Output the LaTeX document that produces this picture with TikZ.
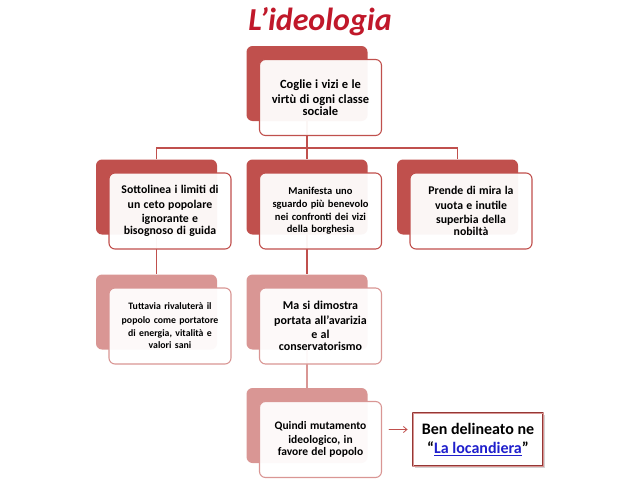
\documentclass[tikz,border=0pt]{standalone}
\usepackage{fontspec}
\setmainfont{Carlito}
\usepackage{tikz}
\usetikzlibrary{arrows.meta,backgrounds,shadows}
\definecolor{CardRed}{HTML}{C0504D}
\definecolor{CardPink}{HTML}{D99694}
\definecolor{TitleRed}{HTML}{C0182A}
\definecolor{BoxRed}{HTML}{953735}
\definecolor{LinkBlue}{HTML}{1F1FCC}
\tikzset{
  cardback/.style={rectangle,rounded corners=6pt,minimum width=121pt,
    minimum height=75pt,inner sep=0pt,draw=none},
  cardfront/.style={rectangle,rounded corners=6pt,minimum width=122pt,
    minimum height=76pt,inner sep=2pt,fill=white,fill opacity=0.95,
    text opacity=1,line width=1.1pt,align=center,font=\bfseries},
  linkdark/.style={draw=CardRed,line width=1.3pt},
  linklight/.style={draw=CardPink,line width=1.3pt},
}
\newcommand{\drawcard}[6]{%
  \node[cardback,fill=#4] (#1-back) at (#2,#3) {};
  \node[cardfront,draw=#4,text width=#5]
    (#1) at ([xshift=13.5pt,yshift=-14pt]#1-back.center) {#6};%
}

\begin{document}
\begin{tikzpicture}[x=1pt,y=-1pt,line cap=round,line join=round]
  \useasboundingbox (0,0) rectangle (638,479);
  \node[text=TitleRed,font=\fontsize{32}{36}\selectfont\bfseries\itshape]
    (title) at (320,22) {L’ideologia};
  \drawcard{vizi}{307}{83.5}{CardRed}{112pt}{\fontsize{12.5}{15}\selectfont
    Coglie i vizi e le\\ virtù di ogni classe\\ sociale}
  \drawcard{ceto}{156.5}{197}{CardRed}{114pt}{\fontsize{11.8}{14.4}\selectfont
    Sottolinea i limiti di\\ un ceto popolare\\ ignorante e\\ bisognoso di guida}
  \drawcard{borg}{307}{197}{CardRed}{114pt}{\fontsize{10.5}{13.2}\selectfont
    Manifesta uno\\ sguardo più benevolo\\ nei confronti dei vizi\\ della borghesia}
  \drawcard{nobi}{457.5}{197}{CardRed}{114pt}{\fontsize{11.8}{14.6}\selectfont
    Prende di mira la\\ vuota e inutile\\ superbia della\\ nobiltà}
  \drawcard{popolo}{156.5}{312}{CardPink}{114pt}{\fontsize{9.8}{13.5}\selectfont
    Tuttavia rivaluterà il\\ popolo come portatore\\ di energia, vitalità e\\ valori sani}
  \drawcard{avar}{307}{312}{CardPink}{114pt}{\fontsize{12}{14.5}\selectfont
    Ma si dimostra\\ portata all’avarizia\\ e al\\ conservatorismo}
  \drawcard{muta}{307}{425.5}{CardPink}{114pt}{\fontsize{11.5}{13.8}\selectfont
    Quindi mutamento\\ ideologico, in\\ favore del popolo}
  \node[draw=BoxRed,line width=0.9pt,double=CardPink,double distance=1pt,
        fill=white,minimum width=130pt,minimum height=53pt,inner sep=2pt,
        align=center,font=\fontsize{16}{19.5}\selectfont\bfseries,
        drop shadow={opacity=0.35,shadow xshift=1.5pt,shadow yshift=-1.5pt}]
    (ben) at (478,439.5)
    {Ben delineato ne\\ “\textcolor{LinkBlue}{\underline{La locandiera}}”};
  \begin{scope}[on background layer]
    \coordinate (bus) at (307,148);
    \draw[linkdark] (vizi-back.south) -- (bus);
    \draw[linkdark] (ceto-back.north) |- (bus) -| (nobi-back.north);
    \draw[linkdark] (bus) -- (borg-back.north);
    \draw[linkdark] (ceto-back.south) -- (popolo-back.north);
    \draw[linkdark] (borg-back.south) -- (avar-back.north);
    \draw[linklight] (avar-back.south) -- (muta-back.north);
  \end{scope}
  \draw[CardRed,line width=0.8pt,-{Straight Barb[length=3.5pt,width=6pt]},
        shorten <=7pt,shorten >=5pt]
    ([yshift=10pt]muta.east) -- ([yshift=10pt]ben.west);
\end{tikzpicture}
\end{document}
